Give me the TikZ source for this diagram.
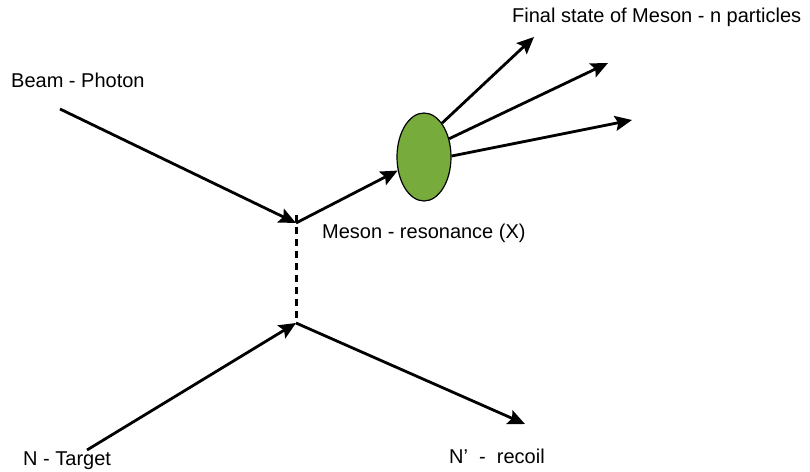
\documentclass[tikz,border=0pt]{standalone}
\usepackage{fontspec}
\setmainfont{Liberation Sans}
\usetikzlibrary{arrows.meta,shapes.geometric}
\definecolor{mesongreen}{RGB}{119,171,60}
\tikzset{
    line/.style={line width=2.8pt,-{Stealth[length=17pt,width=15pt,inset=3pt]}},
    lbl/.style={anchor=base west,inner sep=0pt,font=\fontsize{20}{24}\selectfont},
  }
\begin{document}
\begin{tikzpicture}[x=1pt,y=-1pt]
			          %cadre
			          \useasboundingbox (0,0) rectangle (810,471);
			          %VERTEX
			          \coordinate (beam) at (60,109);
			          \coordinate (V1) at (296,223);
			          \coordinate (V2) at (296,323);
			          \coordinate (tgt) at (87,450);
			          \coordinate (rec) at (525,424);
			          %RESONANCE X
			          \node[ellipse,draw,line width=1.2pt,fill=mesongreen,minimum width=54,minimum height=88,inner sep=0pt] (X) at (424,157) {};
			          \coordinate (f1) at (534,37);
			          \coordinate (f2) at (608,63);
			          \coordinate (f3) at (632,120);
			          %LIGNES
			          \draw[line] (beam) -- (V1);
			          \draw[line] (V1) -- (X);
			          \draw[line width=3pt,dash pattern=on 7pt off 5pt] ([yshift=8]V1) -- (V2);
			          \draw[line] (tgt) -- (V2);
			          \draw[line] (V2) -- (rec);
			          \draw[line] (X.62) -- (f1);
			          \draw[line] (X.36) -- (f2);
			          \draw[line] (X.2) -- (f3);
			          %TEXTES
			          \node[lbl] (beamlbl) at (11,87) {Beam - Photon};
			          \node[lbl] (finallbl) at (512,22) {Final state of Meson - n particles};
			          \node[lbl] (Xlbl) at (322,238) {Meson - resonance (X)};
			          \node[lbl] (tgtlbl) at (23,465) {N - Target};
			          \node[lbl] (reclbl) at (449,463) {N'\ \ -\ \ recoil};
\end{tikzpicture}
\end{document}
